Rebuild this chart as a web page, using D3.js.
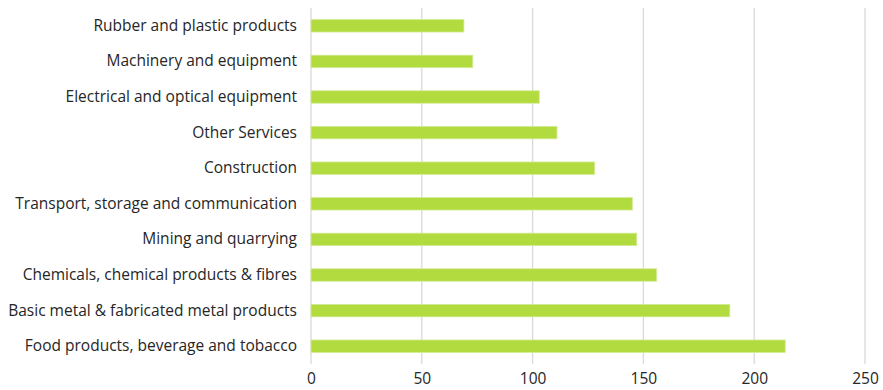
<!DOCTYPE html>
<html>
<head>
<meta charset="utf-8">
<script src="https://cdn.jsdelivr.net/npm/d3@7"></script>
<style>
  html, body { margin: 0; padding: 0; background: #fff; }
  svg { display: block; }
  text { font-family: "Open Sans", Lato, sans-serif; fill: #262626; }
</style>
</head>
<body>
<svg id="chart" width="883" height="390"></svg>
<script>
// Sectors, listed top to bottom
const categories = [
  "Rubber and plastic products",
  "Machinery and equipment",
  "Electrical and optical equipment",
  "Other Services",
  "Construction",
  "Transport, storage and communication",
  "Mining and quarrying",
  "Chemicals, chemical products & fibres",
  "Basic metal & fabricated metal products",
  "Food products, beverage and tobacco"
];
const values = [69, 73, 103, 111, 128, 145, 147, 156, 189, 214];
const xTicks = [0, 50, 100, 150, 200, 250];

const svg = d3.select("#chart");
const margin = { top: 8, right: 18, bottom: 26, left: 311 };
const width = 883 - margin.left - margin.right;
const height = 390 - margin.top - margin.bottom;

const g = svg.append("g").attr("transform", `translate(${margin.left},${margin.top})`);

const x = d3.scaleLinear().domain([0, 250]).range([0, width]);
const y = d3.scaleBand().domain(categories).range([0, height]).paddingInner(0.65).paddingOuter(0.325);

// Vertical gridlines
g.selectAll("line.grid")
  .data(xTicks)
  .join("line")
  .attr("class", "grid")
  .attr("x1", d => x(d)).attr("x2", d => x(d))
  .attr("y1", 0).attr("y2", height)
  .attr("stroke", "#d9d9d9")
  .attr("stroke-width", 1.3);

// Bars
g.selectAll("rect.bar")
  .data(values)
  .join("rect")
  .attr("class", "bar")
  .attr("x", x(0))
  .attr("y", (d, i) => y(categories[i]))
  .attr("width", d => x(d) - x(0))
  .attr("height", y.bandwidth())
  .attr("fill", "#b2db3f")
  .attr("stroke", "#d3eb95")
  .attr("stroke-width", 0.8);

// Category axis
const yAxis = g.append("g").call(d3.axisLeft(y).tickSize(0).tickPadding(14));
yAxis.select(".domain").remove();
yAxis.selectAll("text").attr("font-size", 15.5).attr("fill", "#262626");

// Value axis
const xAxis = g.append("g")
  .attr("transform", `translate(0,${height})`)
  .call(d3.axisBottom(x).tickValues(xTicks).tickSize(0).tickPadding(9));
xAxis.select(".domain").remove();
xAxis.selectAll("text").attr("font-size", 15.5).attr("fill", "#262626");
</script>
</body>
</html>
